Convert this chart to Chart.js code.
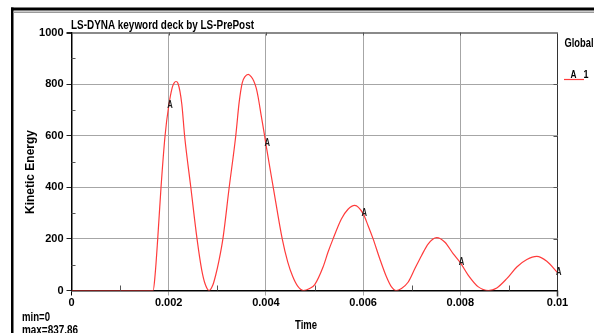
<!DOCTYPE html>
<html>
<head>
<meta charset="utf-8">
<script src="https://cdn.jsdelivr.net/npm/chart.js@4.4.1/dist/chart.umd.min.js"></script>
<style>
  html, body { margin: 0; padding: 0; background: #ffffff; }
  #wrap { position: relative; width: 594px; height: 333px; overflow: hidden; }
  canvas { display: block; }
</style>
</head>
<body>
<div id="wrap"><canvas id="c" width="594" height="333"></canvas></div>
<script>
// ---- data ----
const times = [
  0, 0.0005, 0.0010, 0.0015, 0.00168, 0.00172, 0.001774, 0.001842, 0.001925, 0.002,
  0.002075, 0.00211, 0.00215, 0.00219, 0.00227, 0.002327, 0.002455, 0.002583, 0.00268, 0.00275, 0.00283,
  0.00291, 0.00297, 0.00303, 0.003115, 0.003245, 0.00338, 0.00345, 0.003513, 0.00357, 0.003636, 0.0037,
  0.00375, 0.0038, 0.00384, 0.0039, 0.003973, 0.004, 0.004151, 0.004336, 0.00445, 0.00455, 0.00465, 0.00477,
  0.0049, 0.005005, 0.005176, 0.005279, 0.005382, 0.005553, 0.00569, 0.005828, 0.006, 0.006103,
  0.006206, 0.006343, 0.00648, 0.00658, 0.00668,
  0.00679, 0.006929, 0.007066, 0.007204, 0.007341, 0.007513, 0.007684, 0.007856, 0.008, 0.008165,
  0.008371, 0.00858,
  0.008751, 0.008957, 0.009163, 0.009369, 0.009574, 0.00978, 0.01
];
const kineticEnergy = [
  0, 0, 0, 0, 0, 60, 200, 400, 600, 715,
  788, 804, 810, 803, 722, 600, 400, 200, 79, 25, 0,
  22, 62, 112, 200, 400, 600, 730, 805, 829, 837.86, 828,
  812, 785, 750, 682, 600, 567, 400, 200, 110, 55, 18, 0,
  8, 23, 91, 149, 200, 277, 315, 330, 298, 251,
  200, 123, 53, 15, 0,
  8, 33, 85, 136, 181, 205, 187, 142, 108, 59,
  14, 0,
  10, 46, 91, 120, 132, 113, 69
];
const markerTimes = [0.002, 0.004, 0.006, 0.008, 0.01];
const xTickLabels = ['0', '0.002', '0.004', '0.006', '0.008', '0.01'];
const yTickLabels = ['0', '200', '400', '600', '800', '1000'];
const titleText = 'LS-DYNA keyword deck by LS-PrePost';
const xTitle = 'Time';
const yTitle = 'Kinetic Energy';
const legendTitle = 'Global';
const seriesLabel = 'A';
const seriesId = '1';
const minText = 'min=0';
const maxText = 'max=837.86';

const FONT = "'Liberation Sans',Arial,sans-serif";
const LINE_RED = '#ff3b3b';

function isMajorIdx(i) { return i % 2 === 0; }

// draw bold text squeezed horizontally to a target width (condensed look)
function fitText(ctx, text, x, y, size, targetW, align) {
  ctx.save();
  ctx.font = 'bold ' + size + 'px ' + FONT;
  ctx.textAlign = align || 'left';
  ctx.textBaseline = 'alphabetic';
  const w = ctx.measureText(text).width;
  const sx = Math.min(1, targetW / w);
  ctx.translate(x, y);
  ctx.scale(sx, 1);
  ctx.fillText(text, 0, 0);
  ctx.restore();
}

const decor = {
  id: 'decor',
  beforeDraw(chart) {
    const ctx = chart.ctx;
    ctx.save();
    ctx.fillStyle = '#ffffff';
    ctx.fillRect(0, 0, chart.width, chart.height);
    ctx.restore();
  },
  afterDraw(chart) {
    const ctx = chart.ctx;
    const a = chart.chartArea;
    const xs = chart.scales.x, ys = chart.scales.y;
    ctx.save();
    // outer frame
    ctx.fillStyle = '#000';
    ctx.fillRect(11, 7.5, 583, 3);
    ctx.fillRect(11, 7.5, 2.5, 326);
    ctx.fillStyle = '#9a9a9a';
    ctx.fillRect(13.5, 11.5, 580.5, 1.5);

    // inner minor ticks
    ctx.strokeStyle = '#555';
    ctx.lineWidth = 1;
    xs.ticks.forEach((t, i) => {
      const px = Math.round(xs.getPixelForValue(t.value)) + 0.5;
      if (!isMajorIdx(i)) {
        ctx.beginPath(); ctx.moveTo(px, a.bottom); ctx.lineTo(px, a.bottom - 5); ctx.stroke();
      } else if (i > 0 && i < xs.ticks.length - 1) {
        ctx.beginPath(); ctx.moveTo(px, a.top); ctx.lineTo(px, a.top + 3); ctx.stroke();
      }
    });
    ys.ticks.forEach((t, i) => {
      const py = Math.round(ys.getPixelForValue(t.value)) + 0.5;
      if (!isMajorIdx(i)) {
        ctx.beginPath(); ctx.moveTo(a.left, py); ctx.lineTo(a.left + 4, py); ctx.stroke();
      } else if (i > 0 && i < ys.ticks.length - 1) {
        ctx.beginPath(); ctx.moveTo(a.right, py); ctx.lineTo(a.right - 4, py); ctx.stroke();
      }
    });
    ctx.strokeStyle = '#333';
    ctx.lineWidth = 1.5;
    ctx.beginPath(); ctx.moveTo(a.right, a.bottom); ctx.lineTo(a.right, a.bottom + 6); ctx.stroke();

    // "A" markers on the curve
    ctx.fillStyle = '#1a1a1a';
    markerTimes.forEach(mt => {
      const idx = times.indexOf(mt);
      const v = kineticEnergy[idx];
      const px = xs.getPixelForValue(mt);
      const py = ys.getPixelForValue(v);
      fitText(ctx, seriesLabel, px - 1.5, py + 2, 11, 5.5, 'left');
    });

    // texts
    ctx.fillStyle = '#000';
    fitText(ctx, titleText, 71, 28.5, 12.5, 183, 'left');
    fitText(ctx, legendTitle, 564.5, 46.5, 12, 29, 'left');
    fitText(ctx, minText, 22, 320.5, 12, 28, 'left');
    fitText(ctx, maxText, 22, 334, 12, 56, 'left');
    fitText(ctx, xTitle, 306, 329, 12, 22, 'center');

    // legend sample
    ctx.strokeStyle = LINE_RED;
    ctx.lineWidth = 1.2;
    ctx.beginPath(); ctx.moveTo(564, 79.5); ctx.lineTo(584, 79.5); ctx.stroke();
    ctx.fillStyle = '#000';
    fitText(ctx, seriesLabel, 570.5, 77.5, 11, 6, 'left');
    fitText(ctx, seriesId, 583.5, 77.5, 11, 5, 'left');

    // y title
    ctx.save();
    ctx.translate(31, 172);
    ctx.rotate(-Math.PI / 2);
    ctx.font = 'bold 12px ' + FONT;
    ctx.textAlign = 'center';
    ctx.textBaseline = 'middle';
    ctx.fillText(yTitle, 0, 0);
    ctx.restore();

    ctx.restore();
  }
};

new Chart(document.getElementById('c'), {
  type: 'line',
  data: {
    datasets: [{
      label: seriesLabel + ' ' + seriesId,
      data: times.map((t, i) => ({ x: t, y: kineticEnergy[i] })),
      borderColor: LINE_RED,
      borderWidth: 1.2,
      pointRadius: 0,
      fill: false,
      cubicInterpolationMode: 'monotone'
    }]
  },
  options: {
    responsive: false,
    animation: false,
    devicePixelRatio: 1,
    layout: { padding: { left: 0, top: 32.5, right: 36.5, bottom: 0 } },
    plugins: { legend: { display: false }, title: { display: false }, tooltip: { enabled: false } },
    scales: {
      x: {
        type: 'linear',
        min: 0, max: 0.01,
        afterFit(s) { s.height = 42.5; },
        ticks: {
          stepSize: 0.001,
          autoSkip: false,
          maxRotation: 0,
          padding: 1,
          color: '#000',
          font: { family: FONT, size: 11, weight: 'bold' },
          callback: (v, i) => isMajorIdx(i) ? xTickLabels[i / 2] : ''
        },
        grid: {
          drawTicks: true,
          tickLength: 5,
          lineWidth: 1,
          color: (c) => {
            const i = c.index;
            if (i === 10) return '#333';
            if (i === 0 || !isMajorIdx(i)) return 'rgba(0,0,0,0)';
            return '#a6a6a6';
          },
          tickColor: (c) => {
            const i = c.index;
            if (!isMajorIdx(i)) return 'rgba(0,0,0,0)';
            if (i === 0) return '#000';
            if (i === 10) return 'rgba(0,0,0,0)';
            return '#a6a6a6';
          }
        },
        border: { display: true, color: '#000', width: 1.5 }
      },
      y: {
        type: 'linear',
        min: 0, max: 1000,
        afterFit(s) { s.width = 71.5; },
        ticks: {
          stepSize: 100,
          autoSkip: false,
          padding: 3,
          color: '#000',
          font: { family: FONT, size: 11, weight: 'bold' },
          callback: (v, i) => isMajorIdx(i) ? yTickLabels[i / 2] : ''
        },
        grid: {
          drawTicks: true,
          tickLength: 5,
          lineWidth: (c) => c.index === 10 ? 2 : 1,
          color: (c) => {
            const i = c.index;
            if (i === 10) return '#8a8a8a';
            if (i === 0 || !isMajorIdx(i)) return 'rgba(0,0,0,0)';
            return '#a6a6a6';
          },
          tickColor: (c) => isMajorIdx(c.index) ? '#222' : 'rgba(0,0,0,0)'
        },
        border: { display: true, color: '#000', width: 1.5 }
      }
    }
  },
  plugins: [decor]
});
</script>
</body>
</html>
